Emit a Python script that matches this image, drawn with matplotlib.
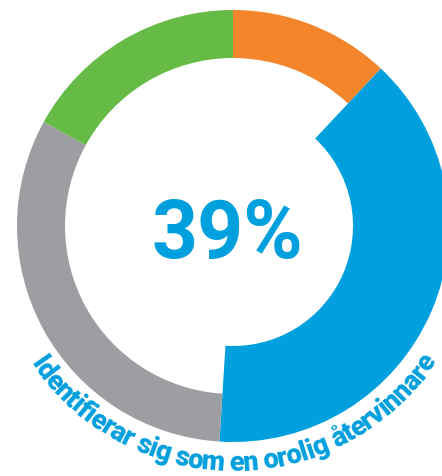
import numpy as np
import matplotlib
matplotlib.use("Agg")
import matplotlib.pyplot as plt
from matplotlib.patches import Wedge
from matplotlib.font_manager import FontProperties, findfont, get_font
from matplotlib.ft2font import LOAD_NO_HINTING

# shares clockwise from 12 o'clock
shares = [12, 39, 32, 17]
colors = ["#F5852A", "#009FDD", "#9D9EA1", "#66BB46"]
highlight = 1  # the blue slice is drawn thicker
center_label = "39%"
caption = "Identifierar sig som en orolig återvinnare"

W, H = 442, 477
fig = plt.figure(figsize=(W / 100, H / 100), dpi=100)
ax = fig.add_axes([0, 0, 1, 1])
ax.set_xlim(0, W)
ax.set_ylim(0, H)
ax.set_aspect("equal")
ax.axis("off")

cx, cy = 233, H - 227
r_out = 216
ring_w = 48
big_w = 96

start = 90.0
for i, (s, c) in enumerate(zip(shares, colors)):
    end = start - s * 3.6
    w = big_w if i == highlight else ring_w
    ax.add_patch(Wedge((cx, cy), r_out, end, start, width=w, facecolor=c,
                       edgecolor="none", antialiased=True))
    start = end

ax.text(227, H - 258, center_label, ha="center", va="baseline",
        fontsize=58, color=colors[highlight], family="Roboto", weight="bold")

# caption bent along the bottom of the ring
prop = FontProperties(family="Roboto", weight="black", size=19.5)
font = get_font(findfont(prop))
font.set_size(prop.get_size_in_points(), 100)
adv = []
for ch in caption:
    g = font.load_char(ord(ch), flags=LOAD_NO_HINTING)
    adv.append(g.linearHoriAdvance / 65536)
adv = np.array(adv) * 0.955
pos = np.cumsum(adv) - adv / 2
total = adv.sum()
R = 244
phi_mid = np.deg2rad(-89.8)
for ch, p in zip(caption, pos):
    if ch == " ":
        continue
    phi = phi_mid + (p - total / 2) / R
    x = cx + R * np.cos(phi)
    y = cy + R * np.sin(phi)
    ax.text(x, y, ch, fontproperties=prop, color=colors[highlight],
            ha="center", va="baseline", rotation=np.rad2deg(phi) + 90,
            rotation_mode="anchor")

fig.savefig("out.png", dpi=100)
